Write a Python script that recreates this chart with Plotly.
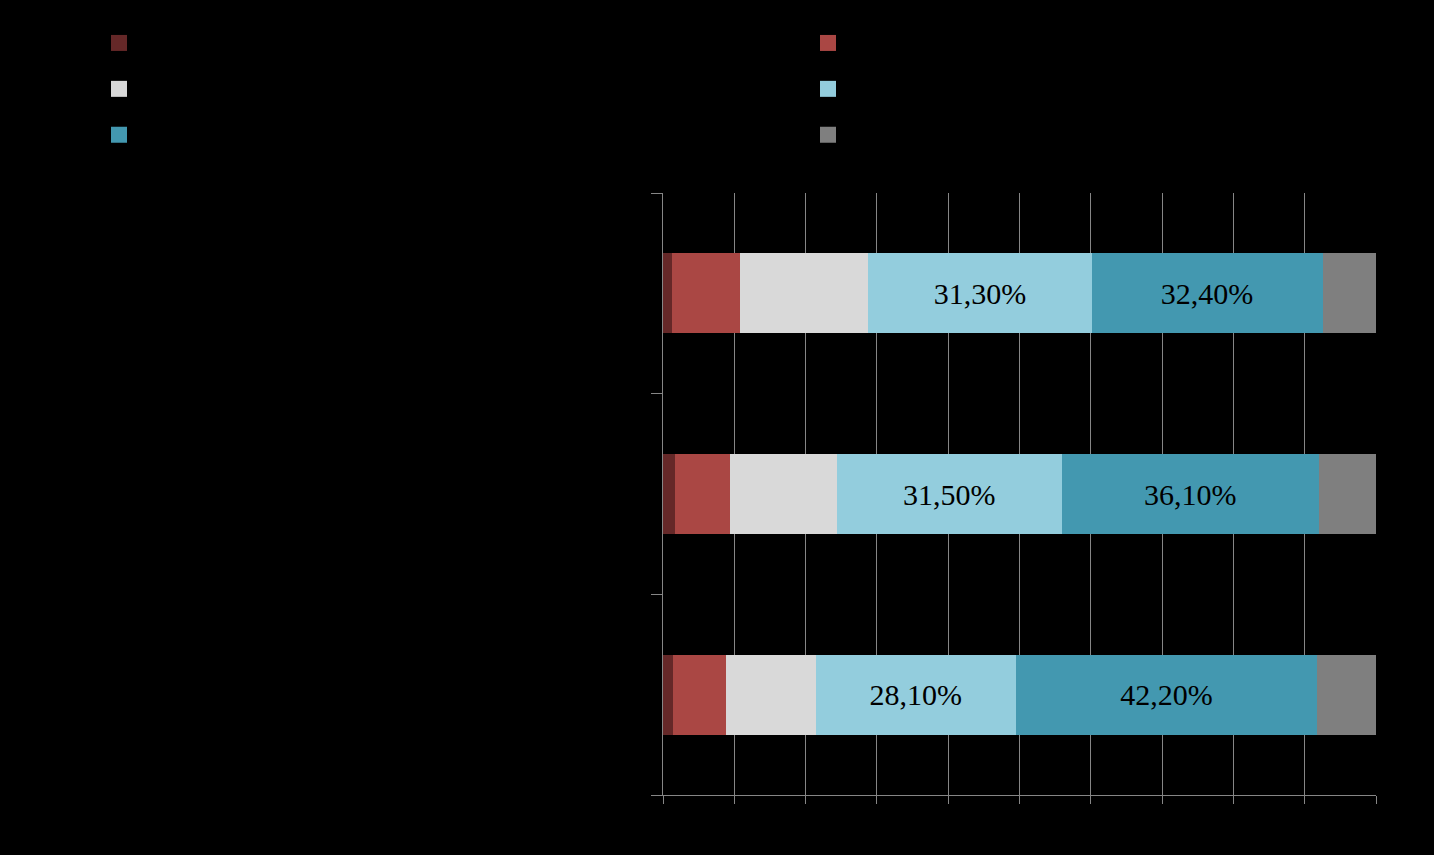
import plotly.graph_objects as go

# Categories (bottom to top); labels are black-on-black in the reference
categories = ["Categoria 1", "Categoria 2", "Categoria 3"]

series_names = ["Série 1", "Série 2", "Série 3", "Série 4", "Série 5", "Série 6"]
colors = ["#652828", "#AA4744", "#D9D9D9", "#93CDDD", "#4398B0", "#7F7F7F"]

# values in percent, order follows categories (bottom, middle, top)
s1 = [1.4, 1.7, 1.3]
s2 = [7.4, 7.7, 9.5]
s3 = [12.6, 15.0, 18.0]
s4 = [28.1, 31.5, 31.3]
s5 = [42.2, 36.1, 32.4]
s6 = [8.3, 8.0, 7.5]
values = [s1, s2, s3, s4, s5, s6]
labelled = [False, False, False, True, True, False]

x_ticks = [0, 10, 20, 30, 40, 50, 60, 70, 80, 90, 100]
x_tick_labels = [f"{t}%" for t in x_ticks]

legend_of = ["legend", "legend2", "legend", "legend2", "legend", "legend2"]

fig = go.Figure()
for name, col, vals, lab, lg in zip(series_names, colors, values, labelled, legend_of):
    fig.add_trace(go.Bar(
        y=categories, x=vals, orientation="h", name=name,
        marker=dict(color=col, line=dict(width=0)),
        text=[f"{v:.2f}%".replace(".", ",") for v in vals] if lab else None,
        textposition="inside" if lab else "none",
        insidetextanchor="middle", textangle=0, constraintext="none",
        textfont=dict(family="Liberation Serif", size=30, color="#000000"),
        showlegend=False, hoverinfo="skip",
    ))
    fig.add_trace(go.Scatter(
        x=[None], y=[None], mode="markers", name=name,
        marker=dict(symbol="square", size=18, color=col),
        legend=lg, showlegend=True,
    ))

legend_common = dict(
    orientation="v", xref="container", yref="container", yanchor="top", xanchor="left",
    font=dict(family="Liberation Serif", size=33, color="#000000"),
    bgcolor="rgba(0,0,0,0)", itemsizing="trace", traceorder="normal",
)

fig.update_layout(
    barmode="stack", bargap=0.6,
    width=1434, height=855,
    paper_bgcolor="#000000", plot_bgcolor="#000000",
    margin=dict(l=663, r=58, t=193, b=60, autoexpand=False),
    showlegend=True,
    legend=dict(x=99 / 1434, y=1 - 15 / 855, **legend_common),
    legend2=dict(x=808 / 1434, y=1 - 15 / 855, **legend_common),
    xaxis=dict(
        range=[0, 100], tickvals=x_ticks, ticktext=x_tick_labels,
        showgrid=True, gridcolor="#868686", gridwidth=1,
        showline=True, linecolor="#868686", linewidth=1,
        ticks="outside", ticklen=8, tickcolor="#868686",
        tickfont=dict(family="Liberation Serif", size=20, color="#000000"),
        zeroline=False, fixedrange=True, automargin=False,
    ),
    yaxis=dict(
        categoryorder="array", categoryarray=categories,
        showgrid=False, showline=True, linecolor="#868686", linewidth=1,
        ticks="outside", ticklen=11, tickcolor="#868686", tickson="boundaries",
        tickfont=dict(family="Liberation Serif", size=20, color="#000000"),
        zeroline=False, fixedrange=True, automargin=False,
    ),
)

fig.write_html("out.html")
